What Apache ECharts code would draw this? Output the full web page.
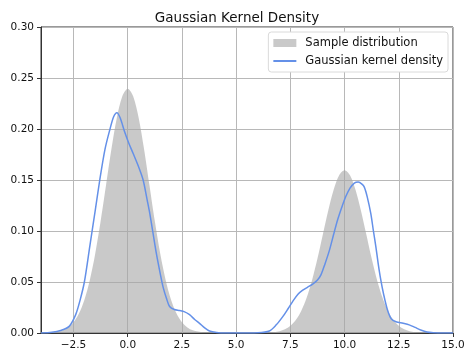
<!DOCTYPE html>
<html>
<head>
<meta charset="utf-8">
<script src="https://cdn.jsdelivr.net/npm/echarts@6/dist/echarts.min.js"></script>
<style>
html,body{margin:0;padding:0;background:#fff;}
#chart{width:474px;height:361px;}
</style>
</head>
<body>
<div id="chart"></div>
<script>
// ---- data ----
var titleText = 'Gaussian Kernel Density';
var legendNames = ['Sample distribution', 'Gaussian kernel density'];
var xTicks = [-2.5, 0, 2.5, 5, 7.5, 10, 12.5, 15];

var sampleX = [-4, -3.5, -3, -2.75, -2.5, -2.25, -2, -1.75, -1.5, -1.25, -1, -0.75, -0.5, -0.25, 0,
  0.25, 0.5, 0.75, 1, 1.25, 1.5, 1.75, 2, 2.25, 2.5, 2.75, 3, 3.5, 4, 5, 6, 6.5, 7, 7.25, 7.5, 7.75,
  8, 8.25, 8.5, 8.75, 9, 9.25, 9.5, 9.75, 10, 10.25, 10.5, 10.75, 11, 11.25, 11.5, 11.75, 12, 12.25,
  12.5, 12.75, 13, 13.5, 14, 15];
var sampleY = [0.0001, 0.0005, 0.0027, 0.0055, 0.0105, 0.019, 0.0324, 0.0518, 0.0777, 0.1096, 0.1452, 0.1807, 0.2113, 0.232, 0.2394,
  0.232, 0.2113, 0.1807, 0.1452, 0.1096, 0.0777, 0.0518, 0.0324, 0.019, 0.0105, 0.0055, 0.0027, 0.0005, 0.0001, 0, 0.0001, 0.0003, 0.0018, 0.0036, 0.007, 0.0127,
  0.0216, 0.0345, 0.0518, 0.073, 0.0968, 0.1204, 0.1408, 0.1547, 0.1596, 0.1547, 0.1408, 0.1204, 0.0968, 0.073, 0.0518, 0.0345, 0.0216, 0.0127,
  0.007, 0.0036, 0.0018, 0.0003, 0.0001, 0];

var kdeX = [-4, -3.5, -3.1, -2.7, -2.4, -2.2, -2, -1.75, -1.5, -1.29, -1.05, -0.83, -0.65, -0.5, -0.35, -0.14,
  0.05, 0.25, 0.5, 0.71, 0.9, 1.01, 1.15, 1.32, 1.5, 1.63, 1.8, 1.93, 2.15, 2.39, 2.6, 2.85, 3.1, 3.31, 3.55,
  3.77, 4.1, 4.5, 5, 6, 6.53, 6.85, 7.15, 7.4, 7.61, 7.85, 8.07, 8.3, 8.53, 8.75, 8.91, 9.1, 9.3, 9.5, 9.68,
  9.9, 10.06, 10.25, 10.45, 10.63, 10.8, 10.91, 11.05, 11.21, 11.33, 11.44, 11.55, 11.67, 11.8, 11.98, 12.15,
  12.37, 12.7, 12.98, 13.25, 13.51, 13.8, 14.1, 14.5, 15];
var kdeY = [0, 0.0008, 0.0025, 0.0065, 0.018, 0.032, 0.05, 0.085, 0.12, 0.15, 0.18, 0.199, 0.212, 0.216, 0.211, 0.197,
  0.186, 0.176, 0.163, 0.15, 0.13, 0.118, 0.1, 0.078, 0.058, 0.045, 0.033, 0.026, 0.023, 0.022, 0.021, 0.018, 0.013, 0.0095, 0.005,
  0.002, 0.0005, 0, 0, 0.0003, 0.002, 0.008, 0.016, 0.024, 0.031, 0.038, 0.042, 0.045, 0.048, 0.052, 0.057, 0.068, 0.081, 0.097, 0.111,
  0.125, 0.134, 0.142, 0.147, 0.148, 0.146, 0.143, 0.133, 0.117, 0.1, 0.085, 0.068, 0.052, 0.038, 0.0225, 0.014,
  0.011, 0.0095, 0.008, 0.0055, 0.003, 0.001, 0.0003, 0, 0];

function pairs(xs, ys) { return xs.map(function (x, i) { return [x, ys[i]]; }); }
function fmt(v, d) { var s = Number(v).toFixed(d); return s.charAt(0) === '-' ? '\u2212' + s.slice(1) : s; }

var font = 'DejaVu Sans';
var blue = '#6490e8';
var chart = echarts.init(document.getElementById('chart'), null, { renderer: 'canvas' });
chart.setOption({
  animation: false,
  backgroundColor: '#fff',
  title: {
    text: titleText, left: 'center', top: 6,
    textStyle: { fontFamily: font, fontSize: 13.5, fontWeight: 'normal', color: '#111' }
  },
  legend: {
    data: [
      { name: legendNames[0], icon: 'rect' },
      { name: legendNames[1], itemStyle: { opacity: 0 } }
    ],
    orient: 'vertical', right: 26, top: 32,
    itemWidth: 23, itemHeight: 8, itemGap: 6,
    padding: [5, 5, 5, 4],
    backgroundColor: '#fff', borderColor: '#dadada', borderWidth: 1, borderRadius: 3,
    textStyle: { fontFamily: font, fontSize: 11.5, color: '#111', padding: [0, 0, 0, 4] }
  },
  grid: { left: 41, right: 21, top: 27, bottom: 28, show: true, borderColor: '#333', borderWidth: 1, backgroundColor: 'transparent' },
  xAxis: {
    type: 'value', min: -4, max: 15,
    axisLine: { show: true, onZero: false, lineStyle: { color: '#333', width: 1 } },
    axisTick: { show: true, inside: false, length: 4, customValues: xTicks, lineStyle: { color: '#333' } },
    axisLabel: { customValues: xTicks, margin: 7, fontFamily: font, fontSize: 10.5, color: '#111', formatter: function (v) { return fmt(v, 1); } },
    splitLine: { show: true, lineStyle: { color: '#b8b8b8', width: 1 } }
  },
  yAxis: {
    type: 'value', min: 0, max: 0.3, interval: 0.05,
    axisLine: { show: true, onZero: false, lineStyle: { color: '#333', width: 1 } },
    axisTick: { show: true, inside: false, length: 4, lineStyle: { color: '#333' } },
    axisLabel: { margin: 7, fontFamily: font, fontSize: 10.5, color: '#111', formatter: function (v) { return fmt(v, 2); } },
    splitLine: { show: true, lineStyle: { color: '#b8b8b8', width: 1 } }
  },
  series: [
    {
      name: legendNames[0], type: 'line', smooth: 0.3, symbol: 'none',
      data: pairs(sampleX, sampleY),
      itemStyle: { color: '#c9c9c9' },
      lineStyle: { width: 0, color: 'rgba(165,165,165,0.6)' },
      areaStyle: { color: 'rgba(165,165,165,0.6)', opacity: 1 }
    },
    {
      name: legendNames[1], type: 'line', z: 3, smooth: 0.3, symbol: 'none',
      data: pairs(kdeX, kdeY),
      itemStyle: { color: blue },
      lineStyle: { width: 1.5, color: blue }
    }
  ]
});
</script>
</body>
</html>
